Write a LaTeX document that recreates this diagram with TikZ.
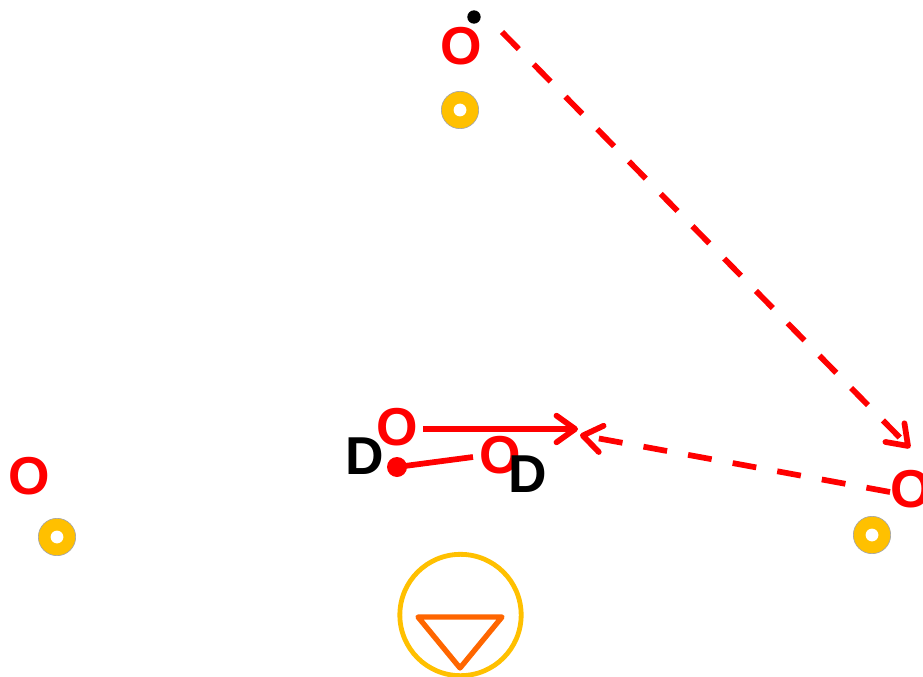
\documentclass[tikz,border=0pt]{standalone}
\usepackage{fontspec}
\setmainfont{Liberation Sans}
\usetikzlibrary{arrows.meta}
\definecolor{cone}{HTML}{FFC000}
\definecolor{tri}{HTML}{FF6600}
\begin{document}
\begin{tikzpicture}[x=0.75pt,y=-0.75pt,
  lbl/.style={inner sep=0pt,font=\fontsize{40}{40}\selectfont\bfseries},
  off/.style={lbl,text=red},
  def/.style={lbl,text=black},
  conebox/.style={circle,fill=cone,draw=black!35,line width=0.5pt,minimum size=28pt,inner sep=0pt,
     path picture={\fill[white] (path picture bounding box.center) circle (4.8pt);}},
  tip/.style={-{Straight Barb[length=14pt,width=20pt,line width=4.3pt,round]}},
  pass/.style={red,line width=4.3pt,dash pattern=on 18pt off 16pt,tip},
  run/.style={red,line width=4.3pt,tip}]
\useasboundingbox (0,0) rectangle (923,677);
% cones
\node[conebox] (c1) at (460,110) {};
\node[conebox] (c2) at (57,537) {};
\node[conebox] (c3) at (872,535) {};
% goal
\node[circle,draw=cone,line width=3.6pt,minimum size=91pt,inner sep=0pt] (goal) at (460.5,615) {};
\coordinate (t1) at (418,617);
\coordinate (t2) at (502,617);
\coordinate (t3) at (460,668);
\draw[tri,line width=4pt,line join=round,line cap=round] (t1) -- (t2) -- (t3) -- cycle;
% players
\node[off] (o1) at (461,46) {O};
\node[off] (o2) at (397,427) {O};
\node[off] (o3) at (500,455) {O};
\node[off] (o4) at (29,476) {O};
\node[off] (o5) at (911,489) {O};
\node[def] (d1) at (365,456) {D};
\node[def] (d2) at (528,474) {D};
% ball and ball dot
\node[circle,fill=black,minimum size=10pt,inner sep=0pt] (ball) at (474,17) {};
\node[circle,fill=red,minimum size=15pt,inner sep=0pt] (rd) at (397,467) {};
% movements
\coordinate (a1s) at (502,32);
\coordinate (a1e) at (910,448);
\draw[pass] (a1s) -- (a1e);
\coordinate (a2s) at (890,492);
\coordinate (a2e) at (580,435);
\draw[pass] (a2s) -- (a2e);
\coordinate (a3s) at (423,429);
\coordinate (a3e) at (578,429);
\draw[run] (a3s) -- (a3e);
\coordinate (l1e) at (473,457);
\draw[red,line width=4.3pt] (rd.center) -- (l1e);
\end{tikzpicture}
\end{document}
